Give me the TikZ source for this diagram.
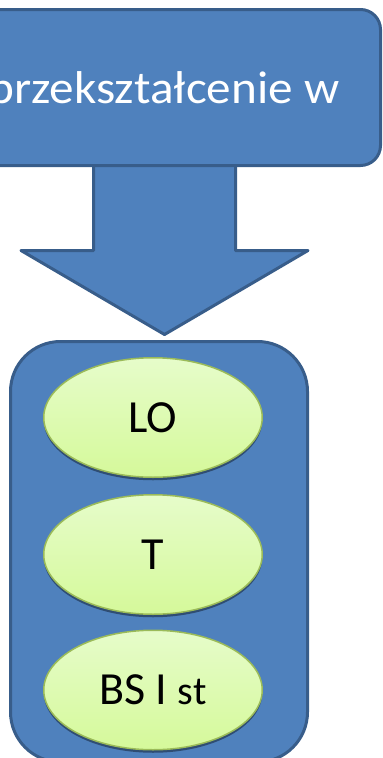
\documentclass[tikz,border=0pt]{standalone}
\usepackage{fontspec}
\setmainfont{Carlito}
\newfontfamily\widefont[FakeStretch=1.07]{Carlito}
\usepackage{tikz}
\usetikzlibrary{calc,shapes.geometric,shadows}
\definecolor{boxblue}{HTML}{4F81BD}
\definecolor{lineblue}{HTML}{385D8A}
\definecolor{ovalline}{HTML}{9BBB59}
\definecolor{ovaltop}{HTML}{E6FCCA}
\definecolor{ovalbottom}{HTML}{D5F99A}
\tikzset{
  bluebox/.style={draw=lineblue,fill=boxblue,line width=3pt,inner sep=0pt},
  oval/.style={ellipse,draw=ovalline,line width=1.5pt,top color=ovaltop,bottom color=ovalbottom,
    minimum width=218.5pt,minimum height=119.5pt,font=\fontsize{46}{50}\selectfont,
    drop shadow={shadow xshift=0pt,shadow yshift=-3pt,fill=lineblue!70!black,opacity=.8}}
}
\begin{document}
\begin{tikzpicture}[x=1pt,y=-1pt]
  \useasboundingbox (0,0) rectangle (383,758);
  \node[bluebox,rounded corners=50pt,minimum width=297pt,minimum height=420.5pt](lowbox)at(159,551.75){};
  \node[oval](lo)at(153,417.5){LO};
  \node[oval](t)at(153,554.5){T};
  \node[oval](bs)at(153,690){BS I {\fontsize{40}{44}\selectfont st}};
  % block arrow from the top box down to the school box
  \coordinate (tip) at ($(lowbox.north)+(5.5,-5.5)$);
  \filldraw[fill=boxblue,draw=lineblue,line width=3pt,line join=round] (tip) -- ++(-143.5,-84) -- ++(72.5,0) -- ++(0,-100)
    -- ++(142,0) -- ++(0,100) -- ++(72.5,0) -- cycle;
  \node[bluebox,rounded corners=20pt,minimum width=433.5pt,minimum height=156pt,text=white,text depth=0pt,
    font=\widefont\fontsize{46}{50}\selectfont](topbox)at(163.75,87.5){przekształcenie w};
\end{tikzpicture}
\end{document}
